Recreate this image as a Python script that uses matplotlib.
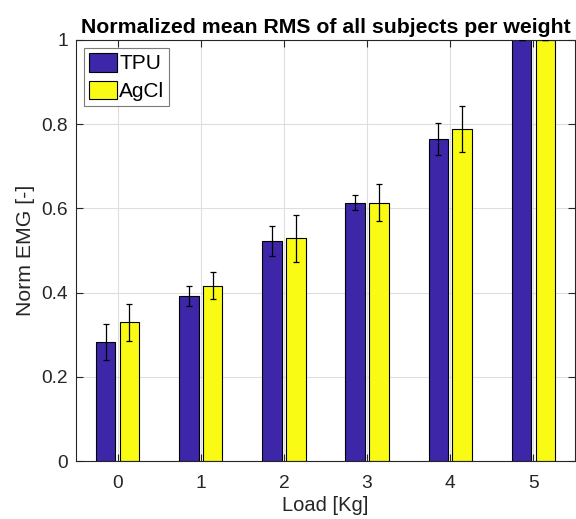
import matplotlib
matplotlib.use("Agg")
import matplotlib.pyplot as plt
import numpy as np

plt.rcParams['font.family'] = ['Liberation Sans', 'DejaVu Sans']

loads = [0, 1, 2, 3, 4, 5]
tpu_mean = [0.283, 0.391, 0.523, 0.614, 0.765, 1.0]
tpu_err = [0.042, 0.024, 0.035, 0.018, 0.038, 0.0]
agcl_mean = [0.329, 0.416, 0.529, 0.614, 0.788, 1.0]
agcl_err = [0.045, 0.032, 0.056, 0.043, 0.055, 0.0]
yticks = [0, 0.2, 0.4, 0.6, 0.8, 1]
ytick_labels = ['0', '0.2', '0.4', '0.6', '0.8', '1']

c_tpu = '#3e26a8'
c_agcl = '#f9fb15'
axc = '#262626'

fig = plt.figure(figsize=(5.76, 5.19), dpi=100)
ax = fig.add_axes([76/576, 58/519, 499/576, 421/519])

x = np.array(loads)
w = 0.234
off = 0.143
ax.bar(x - off, tpu_mean, w, color=c_tpu, edgecolor='black', linewidth=0.8, label='TPU', zorder=2)
ax.bar(x + off, agcl_mean, w, color=c_agcl, edgecolor='black', linewidth=0.8, label='AgCl', zorder=2)
ax.errorbar(x - off, tpu_mean, yerr=tpu_err, fmt='none', ecolor='black', elinewidth=0.9, capsize=2.2, capthick=0.9, zorder=3)
ax.errorbar(x + off, agcl_mean, yerr=agcl_err, fmt='none', ecolor='black', elinewidth=0.9, capsize=2.2, capthick=0.9, zorder=3)

ax.set_xlim(-0.5, 5.5)
ax.set_ylim(0, 1)
ax.set_xticks(loads)
ax.set_yticks(yticks)
ax.set_yticklabels(ytick_labels)
ax.grid(True, color='#dedede', linewidth=0.8, zorder=0)
ax.set_axisbelow(True)
ax.tick_params(direction='in', top=True, right=True, length=5, width=0.8, colors=axc, labelsize=13.8, labelcolor=axc)
ax.tick_params(axis='x', pad=10)
ax.tick_params(axis='y', pad=6)
for s in ax.spines.values():
    s.set_color(axc)
    s.set_linewidth(0.8)

ax.set_xlabel('Load [Kg]', fontsize=14.5, color=axc, labelpad=3)
ax.set_ylabel('Norm EMG [-]', fontsize=15.3, color=axc, labelpad=4)
ax.set_title('Normalized mean RMS of all subjects per weight', fontsize=15.3, fontweight='bold', color='black', pad=5)

leg = ax.legend(loc='upper left', fontsize=15, frameon=True, fancybox=False, edgecolor='#5a5a5a',
                handlelength=1.35, handleheight=1.0, handletextpad=0.1, borderpad=0.22, labelspacing=0.35,
                borderaxespad=0.4)
leg.get_frame().set_linewidth(0.8)

fig.savefig('out.png', dpi=100)
